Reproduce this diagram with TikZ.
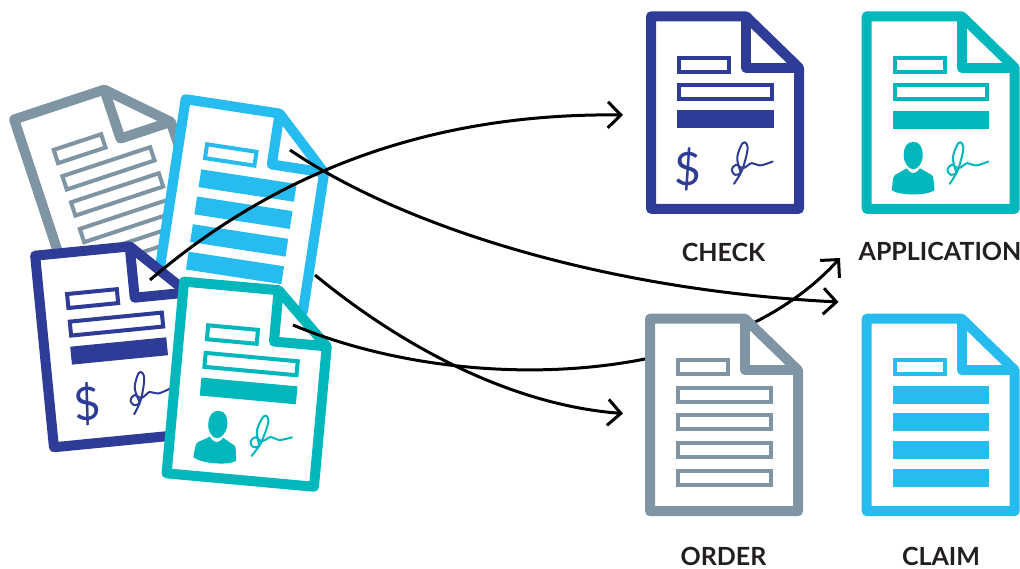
\documentclass[tikz,border=0pt]{standalone}
\usepackage{fontspec}
\setmainfont{Lato}
\usetikzlibrary{arrows.meta}
\definecolor{cnavy}{HTML}{2E3B97}
\definecolor{cteal}{HTML}{00B8BC}
\definecolor{ccyan}{HTML}{26BCEF}
\definecolor{cgray}{HTML}{7F95A3}
\definecolor{cink}{HTML}{231F20}
\tikzset{
  sheet/.style={draw=#1,line width=10pt,line join=round,fill=white},
  fieldbox/.style={draw=#1,line width=4pt,fill=white},
  fieldbar/.style={fill=#1},
  inkline/.style={draw=#1,line width=2pt,line cap=round,line join=round},
  caption/.style={font=\fontsize{25}{27}\selectfont\bfseries,text=cink,inner sep=0pt,anchor=base},
  flow/.style={draw=black,line width=3pt,-{Straight Barb[length=13pt,width=26pt,line width=3pt]}},
}
\newcommand{\docframe}[1]{%
  \path[sheet=#1] (5,5)--(100,5)--(153,56.5)--(153,197.5)--(5,197.5)--cycle;
  \path[sheet=#1,fill=none] (100,5)--(100,56.5)--(153,56.5);
}
\newcommand{\boxrow}[3]{\path[fieldbox=#1] (33,#3+2)rectangle(#2-2,#3+16);}
\newcommand{\barrow}[2]{\path[fieldbar=#1] (31,#2)rectangle(127.5,#2+18);}
\newcommand{\docsign}[1]{%
  \path[inkline=#1] plot[smooth,tension=.6] coordinates {(88,172.5)(96,159)(101.3,140)(100.5,132.5)(96.5,132)(91.3,145.2)(93,156)(94.5,161.8)(89,163.5)(85.7,158.5)(90,153.5)(97.3,156.8)(105.7,151.8)(114,154.2)(126.7,150.2)};
}
\newcommand{\docdollar}[1]{\node[transform shape,text=#1,inner sep=0pt,font=\fontsize{46}{46}\selectfont] at (42.3,157.8) {\$};}
\newcommand{\docperson}[1]{%
  \path[fill=#1] (51.6,130.5)..controls(58,130.5)and(61,136)..(61,144)..controls(61,152)and(56,158)..(51.6,158)..controls(47,158)and(42,152)..(42,144)..controls(42,136)and(45,130.5)..cycle;
  \path[fill=#1] (30.2,179)..controls(31,170)and(31,165)..(33.3,163.7)--(45,157)..controls(47,160)and(49,162)..(51.6,162)..controls(54,162)and(56,160)..(58.3,157)--(70,163.7)..controls(72,165)and(72,170)..(72.8,179)..controls(65,184.5)and(38,184.5)..cycle;
}
\begin{document}
\begin{tikzpicture}[x=1pt,y=-1pt]
\useasboundingbox (0,0) rectangle (1020,568);
% loose pile
\begin{scope}[shift={(7.8,116.3)},rotate=18.3]
  \docframe{cgray}
  \path[fieldbox=cgray] (33,46.3)rectangle(83,60.3);
  \foreach \r in {72,99.5,127.5,155.3}{\boxrow{cgray}{127.5}{\r}}
\end{scope}
\begin{scope}[shift={(181.5,93.5)},rotate=-8.7]
  \docframe{ccyan}
  \path[fieldbox=ccyan] (33,46.3)rectangle(83,60.3);
  \foreach \r in {72,99.5,127.5,155.3}{\barrow{ccyan}{\r}}
\end{scope}
\begin{scope}[shift={(29.7,251.2)},rotate=5.6]
  \docframe{cnavy}
  \path[fieldbox=cnavy] (33,46.3)rectangle(83,60.3);
  \boxrow{cnavy}{127.5}{72}
  \barrow{cnavy}{99}
  \docdollar{cnavy}\docsign{cnavy}
\end{scope}
\begin{scope}[shift={(179.5,276.2)},rotate=-5.2]
  \docframe{cteal}
  \path[fieldbox=cteal] (33,46.3)rectangle(83,60.3);
  \boxrow{cteal}{127.5}{72}
  \barrow{cteal}{99}
  \docperson{cteal}\docsign{cteal}
\end{scope}
% connector ends
\coordinate (navyfold) at (150,280);
\coordinate (cyanfold) at (290,150);
\coordinate (cyanedge) at (315,275);
\coordinate (tealfold) at (293,325);
\coordinate (checkin) at (623,115);
\coordinate (claimin) at (838.5,302);
\coordinate (orderin) at (623,413.5);
\coordinate (applin) at (840,258);
% passes behind the ORDER sheet
\draw[flow] (tealfold)..controls(460,395)and(720,390)..(applin);
% sorted sheets
\begin{scope}[shift={(646,11.3)}]
  \docframe{cnavy}
  \path[fieldbox=cnavy] (33,46.3)rectangle(83,60.3);
  \boxrow{cnavy}{127.5}{72}
  \barrow{cnavy}{98.5}
  \docdollar{cnavy}\docsign{cnavy}
\end{scope}
\begin{scope}[shift={(861.7,11.3)}]
  \docframe{cteal}
  \path[fieldbox=cteal] (33,46.3)rectangle(83,60.3);
  \boxrow{cteal}{127.5}{72}
  \barrow{cteal}{99.5}
  \docperson{cteal}\docsign{cteal}
\end{scope}
\begin{scope}[shift={(645,313.7)}]
  \docframe{cgray}
  \path[fieldbox=cgray] (33,46.3)rectangle(83,60.3);
  \foreach \r in {72,99.5,127.5,155.3}{\boxrow{cgray}{127.5}{\r}}
\end{scope}
\begin{scope}[shift={(861.7,313.7)}]
  \docframe{ccyan}
  \path[fieldbox=ccyan] (33,46.3)rectangle(83,60.3);
  \foreach \r in {72,99.5,127.5,155.3}{\barrow{ccyan}{\r}}
\end{scope}
% connectors on top
\draw[flow] (navyfold)..controls(290,160)and(450,113)..(checkin);
\draw[flow] (cyanfold)..controls(400,225)and(600,290)..(claimin);
\draw[flow] (cyanedge)..controls(400,345)and(510,405)..(orderin);
% captions
\node[caption] (lcheck) at (723.5,261) {CHECK};
\node[caption] (lappl) at (940,260) {APPLICATION};
\node[caption] (lorder) at (723.5,565) {ORDER};
\node[caption] (lclaim) at (941,565) {CLAIM};
\end{tikzpicture}
\end{document}
